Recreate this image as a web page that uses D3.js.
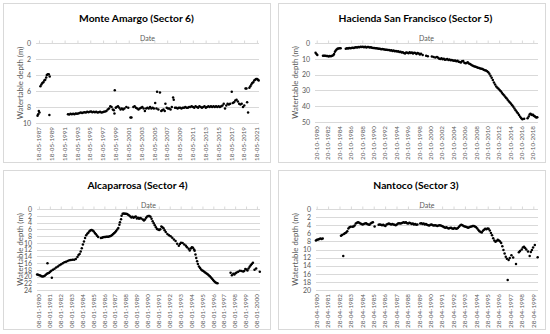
<!DOCTYPE html>
<html><head><meta charset="utf-8">
<script src="https://cdn.jsdelivr.net/npm/d3@7/dist/d3.min.js"></script>
<style>body{margin:0;background:#fff}svg{display:block}</style>
</head><body>
<svg id="c" width="550" height="334"></svg>
<script>
// ---------------- DATA ----------------
const monteXTicks = ["18-05-1987","18-05-1989","18-05-1991","18-05-1993","18-05-1995","18-05-1997","18-05-1999","18-05-2001","18-05-2003","18-05-2005","18-05-2007","18-05-2009","18-05-2011","18-05-2013","18-05-2015","18-05-2017","18-05-2019","18-05-2021"];
const monteYTicks = [0,2,4,6,8,10];
const monteYears = [1987.15,1987.25,1987.35,1987.45,1987.6,1987.75,1987.9,1988.05,1988.2,1988.35,1988.5,1988.6,1988.75,1988.9,1989.05,1989.0,
1991.9,1992.1,1992.3,1992.5,1992.7,1992.9,1993.1,1993.3,1993.5,1993.7,1993.9,1994.1,1994.3,1994.5,1994.7,1994.9,1995.1,1995.3,1995.5,1995.7,1995.9,1996.1,1996.3,1996.5,1996.7,1996.9,1997.1,1997.3,1997.5,1997.7,1997.9,1998.1,1998.3,1998.5,1998.7,1998.9,1999.05,1999.15,1999.2,1999.35,1999.5,1999.7,1999.9,2000.1,2000.3,2000.5,2000.7,2001.0,2001.3,2001.65,2001.8,2002.1,2002.3,2002.5,2002.7,2002.9,2003.1,2003.3,2003.5,2003.7,2003.9,2004.1,2004.3,2004.5,2004.7,2004.9,2005.1,2005.3,2005.5,2005.7,2005.8,2006.0,2006.25,2006.45,2006.6,2006.8,2007.0,2007.1,2007.3,2007.5,2007.7,2007.9,2008.1,2008.3,2008.4,2008.6,2008.8,2009.0,2009.2,2009.4,2009.6,2009.8,2010.0,2010.2,2010.4,2010.6,2010.8,2011.0,2011.2,2011.4,2011.6,2011.8,2012.0,2012.2,2012.4,2012.6,2012.8,2013.0,2013.2,2013.4,2013.6,2013.8,2014.0,2014.2,2014.4,2014.6,2014.8,2015.0,2015.2,2015.4,2015.6,2015.8,2016.0,2016.2,2016.4,2016.6,2016.8,2017.0,2017.2,2017.45,2017.6,2017.8,2018.0,2018.2,2018.4,2018.6,2018.8,2019.0,2019.2,2019.4,2019.6,2019.75,2019.85,2020.0,2020.2,2020.35,2020.5,2020.65,2020.8,2020.95,2021.1,2021.25,2021.4,2021.55,2021.65];
const monteDepth = [9.1,8.9,8.5,8.7,5.4,5.2,5.0,4.9,4.7,4.6,4.3,4.0,3.9,3.9,4.2,9.0,
8.9,8.95,8.85,8.9,8.85,8.9,8.8,8.85,8.8,8.75,8.7,8.75,8.7,8.65,8.7,8.6,8.65,8.6,8.55,8.65,8.6,8.65,8.6,8.7,8.65,8.6,8.7,8.65,8.6,8.55,8.5,8.3,8.2,7.9,8.0,8.3,8.4,8.8,5.9,8.1,8.0,7.9,8.1,8.3,8.2,8.3,8.2,8.0,8.1,9.3,9.3,8.0,7.9,8.1,8.2,8.3,8.2,8.1,8.0,8.2,8.5,8.2,8.1,8.2,8.0,8.2,8.1,8.2,7.5,8.2,6.1,8.3,6.2,8.5,8.4,8.3,8.5,7.6,8.1,8.2,8.2,8.3,8.0,6.8,7.1,8.1,8.1,8.2,8.1,8.1,8.2,8.1,8.1,8.0,8.1,8.1,8.0,8.0,7.9,8.0,8.1,7.9,8.0,8.1,7.9,8.0,8.1,8.0,7.9,8.1,8.0,7.9,8.0,7.9,8.0,7.9,8.0,7.9,8.0,7.9,8.0,7.9,7.8,7.6,8.2,7.8,7.6,7.7,7.6,6.1,7.5,7.4,7.2,7.1,7.3,7.6,7.7,7.6,8.0,7.8,5.7,5.7,7.4,8.7,5.6,5.4,5.2,5.0,4.9,4.7,4.6,4.5,4.5,4.6,4.7];

const haciendaXTicks = ["20-10-1980","20-10-1982","20-10-1984","20-10-1986","20-10-1988","20-10-1990","20-10-1992","20-10-1994","20-10-1996","20-10-1998","20-10-2000","20-10-2002","20-10-2004","20-10-2006","20-10-2008","20-10-2010","20-10-2012","20-10-2014","20-10-2016","20-10-2018"];
const haciendaYTicks = [0,10,20,30,40,50];
const haciendaYears = [1980.6,1980.75,1980.9,1981.9,1982.1,1982.3,1982.5,1982.7,1982.9,1983.1,1983.3,1983.5,1983.7,1983.85,1984.0,1984.15,1984.3,1984.45,1984.6,1984.8,1985.0,
1985.9,1986.1,1986.3,1986.5,1986.7,1986.9,1987.1,1987.3,1987.5,1987.7,1987.9,1988.1,1988.3,1988.5,1988.7,1988.9,1989.1,1989.3,1989.5,1989.7,1989.9,1990.1,1990.3,1990.5,1990.7,1990.9,1991.1,1991.3,1991.5,1991.7,1991.9,1992.1,1992.3,1992.5,1992.7,1992.9,1993.1,1993.3,1993.5,1993.7,1993.9,1994.1,1994.3,1994.5,1994.7,1994.9,1995.1,1995.3,1995.5,1995.7,1995.9,1996.1,1996.3,1996.5,1996.7,1996.9,1997.1,1997.3,1997.5,1997.7,1997.9,1998.1,1998.3,1998.5,1998.7,1998.9,1999.1,1999.4,
2000.0,2000.3,2001.0,2001.3,2001.6,2001.9,2002.1,2002.3,2002.5,2002.7,2002.9,2003.1,2003.3,2003.5,2003.7,2003.9,2004.1,2004.3,2004.5,2004.7,2004.9,2005.1,2005.3,2005.5,2005.7,2005.9,2006.1,2006.3,2006.5,2006.7,2006.9,2007.1,2007.3,2007.5,2007.7,2007.9,2008.1,2008.3,2008.5,2008.7,2008.9,2009.1,2009.3,2009.5,2009.7,2009.9,2010.1,2010.3,2010.5,2010.7,2010.9,2011.1,2011.3,2011.5,2011.7,2011.9,2012.1,2012.3,2012.5,2012.7,2012.9,2013.1,2013.3,2013.5,2013.7,2013.9,2014.1,2014.3,2014.5,2014.7,2014.9,2015.1,2015.3,2015.5,2015.7,2015.9,2016.1,2016.3,2016.5,2016.7,2016.9,2017.2,
2017.8,2018.0,2018.15,2018.3,2018.45,2018.6,2018.75,2018.9,2019.05,2019.2,2019.35,2019.5];
const haciendaDepth = [6.2,7.0,7.6,8.0,8.1,8.1,8.2,8.3,8.6,8.2,8.4,8.0,7.8,7.0,5.6,4.8,4.1,3.7,3.5,3.4,3.4,
3.6,3.3,3.5,3.2,3.4,3.1,3.0,3.2,2.9,2.7,2.8,2.5,2.7,2.4,2.6,2.3,2.7,2.4,2.8,2.5,2.6,2.9,2.7,3.0,3.1,3.2,3.3,3.4,3.5,3.6,3.7,3.9,3.8,4.0,4.1,4.3,4.2,4.5,4.4,4.7,4.6,5.0,4.8,5.2,5.1,5.4,5.3,5.7,5.5,6.0,5.8,6.3,6.6,6.0,6.2,6.5,5.9,6.3,6.0,6.6,6.2,6.4,6.9,6.3,6.7,7.2,6.8,7.6,
8.0,8.4,8.6,8.9,9.2,8.8,9.4,9.9,10.2,9.6,10.3,10.0,10.6,10.4,10.2,10.7,10.5,10.9,10.7,11.0,11.2,11.0,11.5,11.3,11.8,12.0,12.3,11.6,11.4,12.5,12.8,12.6,12.2,13.0,13.3,13.8,14.2,14.5,14.8,15.0,15.3,15.6,15.8,16.1,16.3,16.5,16.9,17.2,17.4,17.9,18.5,19.5,20.7,22.0,23.4,25.0,26.3,27.5,28.3,29.0,29.8,30.6,31.5,32.4,33.3,34.1,35.0,35.9,36.8,37.6,38.5,39.4,40.3,41.5,42.6,43.5,44.4,45.5,46.6,47.6,48.2,48.0,
47.6,46.5,45.2,44.8,45.3,45.6,45.4,46.0,46.4,46.9,47.2,47.0];

const alcaXTicks = ["08-01-1980","08-01-1981","08-01-1982","08-01-1983","08-01-1984","08-01-1985","08-01-1986","08-01-1987","08-01-1988","08-01-1989","08-01-1990","08-01-1991","08-01-1992","08-01-1993","08-01-1994","08-01-1995","08-01-1996","08-01-1997","08-01-1998","08-01-1999","08-01-2000"];
const alcaYTicks = [0,2,4,6,8,10,12,14,16,18,20,22,24];
const alcaYears = [1979.85,1979.95,1980.05,1980.15,1980.25,1980.35,1980.45,1980.55,1980.65,1980.75,1980.8,1980.85,1980.95,1981.05,1981.15,1981.2,1981.3,1981.45,1981.6,1981.75,1981.9,1982.05,1982.2,1982.35,1982.5,1982.65,1982.8,1982.95,1983.1,1983.25,1983.4,1983.55,1983.65,1983.75,1983.85,1983.95,1984.05,1984.15,1984.25,1984.35,1984.45,1984.55,1984.65,1984.75,1984.85,1984.95,1985.05,1985.15,1985.25,1985.35,1985.45,1985.7,1985.8,1985.9,1986.0,1986.1,1986.2,1986.3,1986.4,1986.5,1986.6,1986.7,1986.8,1986.9,1987.0,1987.1,1987.2,1987.3,1987.4,1987.45,1987.55,1987.6,1987.7,1987.8,1987.9,1988.0,1988.1,1988.2,1988.3,1988.4,1988.5,1988.6,1988.7,1988.8,1988.9,1989.0,1989.1,1989.2,1989.3,1989.4,1989.55,1989.65,1989.75,1989.85,1989.95,1990.05,1990.15,1990.25,1990.35,1990.45,1990.55,1990.65,1990.75,1990.85,1990.95,1991.05,1991.15,1991.25,1991.35,1991.45,1991.55,1991.65,1991.8,1991.95,1992.1,1992.25,1992.4,1992.55,1992.7,1992.85,1992.95,1993.05,1993.2,1993.35,1993.5,1993.6,1993.75,1993.85,1993.95,1994.05,1994.15,1994.25,1994.3,1994.38,1994.45,1994.53,1994.6,1994.7,1994.8,1994.9,1995.0,1995.1,1995.2,1995.3,1995.4,1995.5,1995.6,1995.7,1995.8,1995.9,1996.0,1996.1,1996.2,1996.3,1996.4,
1997.6,1997.72,1997.85,1997.95,1998.05,1998.15,1998.3,1998.45,1998.6,1998.75,1998.85,1998.95,1999.05,1999.15,1999.25,1999.35,1999.45,1999.55,1999.65,1999.8,1999.95,2000.28];
const alcaDepth = [19.4,19.5,19.6,19.7,19.9,20.0,19.9,19.8,19.5,19.2,16.1,19.0,18.9,18.6,18.3,20.4,18.0,17.7,17.3,17.0,16.7,16.4,16.1,15.8,15.6,15.4,15.2,15.1,15.0,15.0,14.8,14.2,13.6,13.3,12.6,11.6,10.5,9.6,8.6,7.8,7.3,7.0,6.6,6.3,6.2,6.4,6.7,7.1,7.5,7.9,8.3,8.6,8.5,8.4,8.3,8.3,8.2,8.2,8.2,8.1,8.0,7.8,7.5,7.2,6.9,6.5,6.1,5.6,4.7,3.9,3.0,2.0,1.4,1.3,1.4,1.4,1.5,1.7,1.9,2.2,2.5,2.3,2.6,2.4,2.2,2.8,2.6,2.9,2.7,2.8,3.1,3.4,3.1,2.6,2.2,2.1,2.1,2.3,2.9,3.6,4.2,4.8,5.4,5.9,6.1,6.2,6.0,5.2,5.4,5.7,6.3,6.8,7.4,7.8,8.1,8.5,9.0,9.5,10.3,10.9,10.4,10.0,10.1,10.5,10.9,11.3,11.8,12.3,11.7,11.3,11.5,12.0,12.4,13.5,14.5,15.5,16.3,17.0,17.5,17.9,18.2,18.4,18.7,18.9,19.1,19.3,19.6,19.9,20.3,20.7,21.0,21.4,21.7,21.9,22.0,
18.9,19.6,19.2,19.4,19.0,18.8,18.6,18.3,18.4,18.5,18.4,17.8,17.9,18.2,17.6,17.1,16.7,16.3,15.9,18.0,17.6,18.6];

const nantXTicks = ["28-04-1980","28-04-1981","28-04-1982","28-04-1983","28-04-1984","28-04-1985","28-04-1986","28-04-1987","28-04-1988","28-04-1989","28-04-1990","28-04-1991","28-04-1992","28-04-1993","28-04-1994","28-04-1995","28-04-1996","28-04-1997","28-04-1998","28-04-1999"];
const nantYTicks = [0,2,4,6,8,10,12,14,16,18,20];
const nantYears = [1980.25,1980.35,1980.45,1980.55,1980.65,1980.75,1980.85,1982.45,1982.55,1982.65,1982.7,1982.8,1982.9,1983.0,1983.1,1983.2,1983.3,1983.45,1983.55,1983.65,1983.75,1983.85,1983.95,1984.05,1984.15,1984.25,1984.35,1984.45,1984.55,1984.65,1984.75,1984.85,1984.95,1985.05,1985.15,1985.25,1985.4,1985.75,1985.85,1985.95,1986.05,1986.15,1986.25,1986.35,1986.45,1986.55,1986.65,1986.75,1986.85,1986.95,1987.05,1987.15,1987.25,1987.35,1987.45,1987.55,1987.65,1987.75,1987.85,1987.95,1988.05,1988.15,1988.25,1988.35,1988.45,1988.55,1988.65,1988.75,1988.85,1988.95,1989.05,1989.15,1989.4,1989.5,1989.6,1989.7,1989.8,1989.9,1990.0,1990.1,1990.2,1990.3,1990.4,1990.5,1990.6,1990.7,1990.8,1990.9,1991.0,1991.1,1991.2,1991.3,1991.4,1991.5,1991.6,1991.7,1991.8,1991.9,1992.0,1992.1,1992.2,1992.3,1992.4,1992.5,1992.6,1992.7,1992.8,1992.9,1993.0,1993.1,1993.2,1993.3,1993.4,1993.5,1993.6,1993.7,1993.8,1993.9,1994.0,1994.1,1994.2,1994.3,1994.4,1994.5,1994.6,1994.7,1994.8,1994.9,1995.0,1995.1,1995.2,1995.3,1995.4,1995.5,1995.6,1995.7,1995.8,1995.9,1996.0,1996.1,1996.2,1996.3,1996.4,1996.5,1996.6,1996.7,1996.8,1996.9,1997.0,1997.07,1997.15,1997.25,1997.4,1997.55,1997.8,1998.05,1998.15,1998.3,1998.4,1998.5,1998.6,1998.7,1998.85,1999.0,1999.1,1999.2,1999.3,1999.45,1999.7];
const nantDepth = [7.8,7.6,7.5,7.4,7.3,7.4,7.3,6.6,6.4,11.6,6.2,6.0,5.8,5.5,4.8,4.5,4.4,4.4,4.3,4.1,3.6,3.4,3.3,3.4,3.6,3.7,3.8,3.7,3.6,3.5,3.7,3.8,3.9,3.6,3.4,3.3,4.3,3.9,3.8,3.9,4.0,3.9,4.1,4.2,3.8,3.7,3.6,3.7,3.8,3.7,3.8,3.9,4.0,3.8,3.6,3.5,3.6,3.5,3.4,3.3,3.4,3.3,3.5,3.6,3.4,3.5,3.7,3.6,3.8,3.7,3.9,3.8,3.6,3.5,3.7,3.6,3.8,3.7,3.9,4.0,4.1,3.9,3.8,4.0,4.1,4.0,4.1,4.2,4.1,4.0,4.1,4.2,4.3,4.5,4.6,4.5,4.7,4.8,4.7,4.6,4.8,4.9,4.7,4.8,4.9,4.7,4.4,4.1,3.9,4.0,4.2,4.3,4.4,4.5,4.6,4.5,4.4,4.3,4.2,4.2,4.3,4.5,4.8,5.2,5.5,5.7,5.8,5.4,5.1,4.9,5.0,4.8,4.9,5.3,5.9,6.5,7.2,7.8,8.1,7.9,7.6,7.8,8.0,8.4,9.2,10.1,11.0,11.8,12.3,17.5,12.6,12.1,11.4,12.0,13.6,10.7,10.4,10.0,9.5,9.3,9.6,10.0,10.5,11.6,10.6,10.1,9.5,8.9,11.9];

// ---------------- DRAW ----------------
const FONT = "Lato, 'Open Sans', sans-serif";
function decToDate(y){ const yr=Math.floor(y); const a=new Date(yr,0,1), b=new Date(yr+1,0,1); return new Date(+a + (y-yr)*(b-a)); }
function parseLabel(s){ const p=s.split('-').map(Number); return new Date(p[2],p[1]-1,p[0]); }

const panels = [
  {title:"Monte Amargo (Sector 6)", ox:0, oy:0, x0:36, x1:259, y0:43, y1:123, dom:[1986.91,2021.70], yMax:10, yT:monteYTicks, xT:monteXTicks, xs:monteYears, ys:monteDepth},
  {title:"Hacienda San Francisco (Sector 5)", ox:275, oy:0, x0:40, x1:263, y0:43, y1:122, dom:[1980.50,2019.63], yMax:50, yT:haciendaYTicks, xT:haciendaXTicks, xs:haciendaYears, ys:haciendaDepth},
  {title:"Alcaparrosa (Sector 4)", ox:0, oy:167, x0:37, x1:260, y0:42, y1:123, dom:[1979.84,2000.30], yMax:24, yT:alcaYTicks, xT:alcaXTicks, xs:alcaYears, ys:alcaDepth},
  {title:"Nantoco (Sector 3)", ox:275, oy:167, x0:41, x1:263, y0:42, y1:123, dom:[1980.26,1999.73], yMax:20, yT:nantYTicks, xT:nantXTicks, xs:nantYears, ys:nantDepth}
];

const svg = d3.select('#c');
panels.forEach(p => {
  const g = svg.append('g').attr('transform', `translate(${p.ox},${p.oy})`);
  g.append('rect').attr('x',3.5).attr('y',3.5).attr('width',267).attr('height',159)
    .attr('fill','#fff').attr('stroke','#d9d9d9').attr('stroke-width',1);
  const x = d3.scaleTime().domain(p.dom.map(decToDate)).range([p.x0, p.x1]);
  const y = d3.scaleLinear().domain([0, p.yMax]).range([p.y0, p.y1]);

  // gridlines
  g.append('g').selectAll('line').data(p.yT).join('line')
    .attr('x1',p.x0).attr('x2',p.x1)
    .attr('y1',d=>Math.round(y(d))+0.5).attr('y2',d=>Math.round(y(d))+0.5)
    .attr('stroke','#d9d9d9').attr('stroke-width',1);

  // y axis labels
  const yAxis = d3.axisLeft(y).tickValues(p.yT).tickSize(0).tickPadding(5);
  const ya = g.append('g').attr('transform',`translate(${p.x0},0)`).call(yAxis);
  ya.select('.domain').remove();
  ya.selectAll('text').attr('font-family',FONT).attr('font-size',7).attr('fill','#595959');

  // top x axis with ticks
  const tickDates = p.xT.map(parseLabel);
  const xAxis = d3.axisTop(x).tickValues(tickDates).tickSize(3).tickFormat('');
  const xa = g.append('g').attr('transform',`translate(0,${Math.round(p.y0)+0.5})`).call(xAxis);
  xa.select('.domain').attr('stroke','#d9d9d9').attr('d',`M${p.x0},0H${p.x1}`);
  xa.selectAll('.tick line').attr('stroke','#d9d9d9');

  // bottom rotated labels
  g.append('g').selectAll('text').data(p.xT).join('text')
    .attr('transform', d => `translate(${x(parseLabel(d))},${p.y1+4}) rotate(-90)`)
    .attr('text-anchor','end').attr('dy','0.35em')
    .attr('font-family',FONT).attr('font-size',6.3).attr('fill','#595959')
    .text(d=>d);

  // titles
  g.append('text').attr('x',(p.x0+p.x1)/2 - 11).attr('y',21.5).attr('text-anchor','middle')
    .attr('font-family',FONT).attr('font-weight','bold').attr('font-size',10.3).attr('fill','#000')
    .text(p.title);
  g.append('text').attr('x',(p.x0+p.x1)/2).attr('y',40.5).attr('text-anchor','middle')
    .attr('font-family',FONT).attr('font-size',7).attr('fill','#595959').text('Date');
  g.append('text').attr('transform',`translate(20,${(p.y0+p.y1)/2}) rotate(-90)`)
    .attr('text-anchor','middle').attr('dy','0.35em')
    .attr('font-family',FONT).attr('font-size',7.8).attr('fill','#595959').text('Watertable depth (m)');

  // points
  g.append('g').selectAll('circle').data(p.xs.map((v,i)=>[v,p.ys[i]])).join('circle')
    .attr('cx',d=>x(decToDate(d[0]))).attr('cy',d=>y(d[1])).attr('r',1.25).attr('fill','#000');
});
</script>
</body></html>
